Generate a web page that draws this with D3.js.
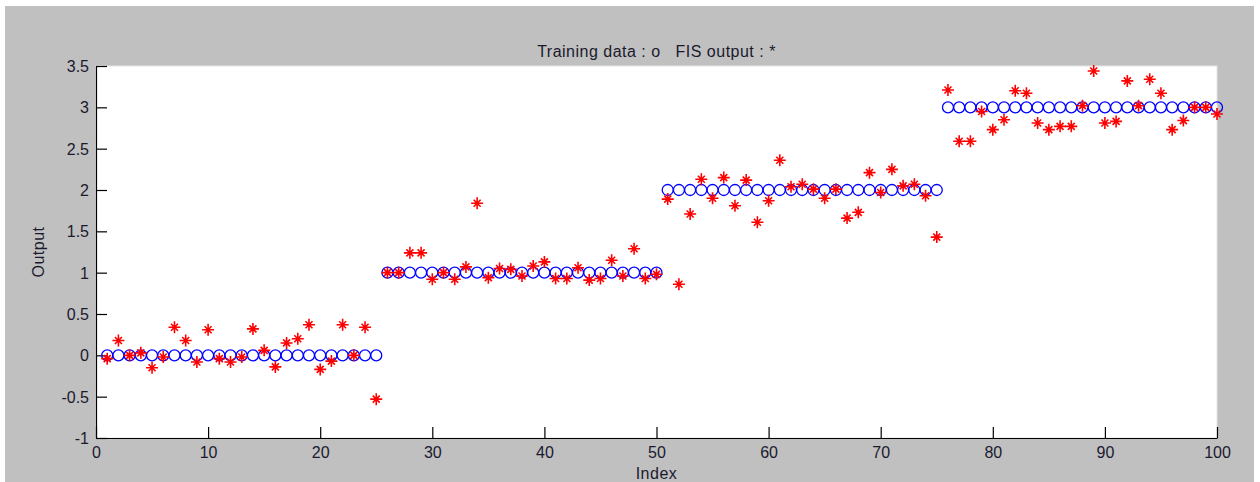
<!DOCTYPE html>
<html>
<head>
<meta charset="utf-8">
<script src="https://cdn.jsdelivr.net/npm/d3@7"></script>
<style>
	body { margin: 0; background: #fff; }
	text { font-family: "Liberation Sans", Arial, sans-serif; fill: #1a1a2e; }
</style>
</head>
<body>
<div id="chart"></div>
<script>
// training targets, one block of 25 per class
var trainingData = [
	0,0,0,0,0,0,0,0,0,0,0,0,0,0,0,0,0,0,0,0,0,0,0,0,0,
	1,1,1,1,1,1,1,1,1,1,1,1,1,1,1,1,1,1,1,1,1,1,1,1,1,
	2,2,2,2,2,2,2,2,2,2,2,2,2,2,2,2,2,2,2,2,2,2,2,2,2,
	3,3,3,3,3,3,3,3,3,3,3,3,3,3,3,3,3,3,3,3,3,3,3,3,3
];

// FIS output
var fisOutput = [
	-0.04, 0.18, 0.00, 0.03, -0.15, -0.02, 0.34, 0.18, -0.08, 0.31,
	-0.04, -0.08, -0.02, 0.32, 0.06, -0.14, 0.15, 0.20, 0.37, -0.17,
	-0.07, 0.37, 0.00, 0.34, -0.53,
	1.00, 1.00, 1.24, 1.24, 0.92, 1.00, 0.92, 1.07, 1.84, 0.94,
	1.05, 1.04, 0.96, 1.08, 1.13, 0.93, 0.93, 1.06, 0.91, 0.93,
	1.15, 0.96, 1.29, 0.93, 0.98,
	1.89, 0.86, 1.71, 2.13, 1.90, 2.15, 1.81, 2.12, 1.61, 1.87,
	2.36, 2.04, 2.07, 2.01, 1.90, 2.01, 1.66, 1.73, 2.21, 1.97,
	2.25, 2.05, 2.07, 1.93, 1.43,
	3.21, 2.59, 2.59, 2.95, 2.73, 2.85, 3.20, 3.17, 2.81, 2.73,
	2.77, 2.77, 3.02, 3.44, 2.81, 2.83, 3.32, 3.02, 3.34, 3.17,
	2.73, 2.84, 3.00, 3.00, 2.92
];

var xTicks = [0, 10, 20, 30, 40, 50, 60, 70, 80, 90, 100];
var yTicks = [-1, -0.5, 0, 0.5, 1, 1.5, 2, 2.5, 3, 3.5];
var title = "Training data : o   FIS output : *";

function init(){
	var w = 1260;
	var h = 482;
	var left = 96, right = 1217, top = 66, bottom = 438;

	var svg = d3.select("#chart")
				.append("svg")
				.attr("width", w)
				.attr("height", h);

	// grey figure area
	svg.append("rect")
		.attr("x", 5).attr("y", 6)
		.attr("width", 1249).attr("height", h - 6)
		.attr("fill", "#c0c0c0");

	svg.append("rect")
		.attr("x", left).attr("y", top)
		.attr("width", right - left).attr("height", bottom - top)
		.attr("fill", "#fff")
		.attr("stroke", "#e4e4e4")
		.attr("stroke-width", 1);

	var x = d3.scaleLinear().domain([0, 100]).range([left, right]);
	var y = d3.scaleLinear().domain([-1, 3.5]).range([bottom, top]);

	var xAxis = d3.axisBottom(x)
				.tickValues(xTicks)
				.tickSizeInner(-11)
				.tickSizeOuter(0)
				.tickPadding(9);

	var yAxis = d3.axisLeft(y)
				.tickValues(yTicks)
				.tickFormat(function(d){ return String(d); })
				.tickSizeInner(-11)
				.tickSizeOuter(0)
				.tickPadding(7);

	var gx = svg.append("g")
		.attr("transform", "translate(0," + bottom + ")")
		.call(xAxis);
	var gy = svg.append("g")
		.attr("transform", "translate(" + left + ",0)")
		.call(yAxis);

	[gx, gy].forEach(function(g){
		g.selectAll("path, line").attr("stroke", "#000").attr("stroke-width", 1.2);
		g.selectAll("text")
			.style("font-family", "'Liberation Sans', Arial, sans-serif")
			.style("font-size", "16px")
			.attr("fill", "#1a1a2e");
	});
	gy.selectAll("text").attr("dy", "0.35em");

	svg.append("text")
		.attr("x", (left + right) / 2)
		.attr("y", 57)
		.attr("text-anchor", "middle")
		.style("font-size", "16px")
		.style("letter-spacing", "0.5px")
		.style("white-space", "pre")
		.text(title);

	svg.append("text")
		.attr("x", (left + right) / 2)
		.attr("y", 479)
		.attr("text-anchor", "middle")
		.style("font-size", "16px")
		.style("letter-spacing", "0.5px")
		.text("Index");

	svg.append("text")
		.attr("transform", "translate(44," + ((top + bottom) / 2) + ") rotate(-90)")
		.attr("text-anchor", "middle")
		.style("font-size", "16px")
		.style("letter-spacing", "0.5px")
		.text("Output");

	//training data circles
	svg.selectAll("circle.train")
		.data(trainingData)
		.enter()
		.append("circle")
		.attr("class", "train")
		.attr("cx", function(d, i){ return x(i + 1); })
		.attr("cy", function(d){ return y(d); })
		.attr("r", 5.5)
		.attr("fill", "none")
		.attr("stroke", "#0000ff")
		.attr("stroke-width", 1.3);

	//FIS output asterisks
	var star = "M-6,0L6,0M0,-6L0,6M-3.5,-3.5L3.5,3.5M-3.5,3.5L3.5,-3.5";
	svg.selectAll("path.fis")
		.data(fisOutput)
		.enter()
		.append("path")
		.attr("class", "fis")
		.attr("d", star)
		.attr("transform", function(d, i){
			return "translate(" + x(i + 1) + "," + y(d) + ")";
		})
		.attr("fill", "none")
		.attr("stroke", "#ff0000")
		.attr("stroke-width", 1.6);
}

window.onload = init;
</script>
</body>
</html>
